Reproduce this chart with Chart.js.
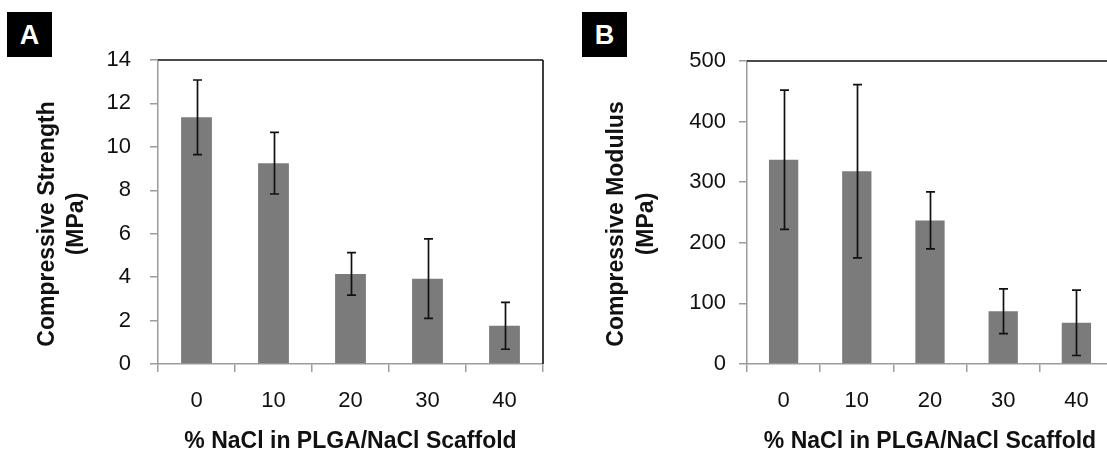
<!DOCTYPE html>
<html><head><meta charset="utf-8">
<script src="https://cdn.jsdelivr.net/npm/chart.js@4/dist/chart.umd.min.js"></script>
<style>
html,body{margin:0;padding:0;background:#fff;overflow:hidden;width:1107px;height:455px;position:relative;}
#wrapA{position:absolute;left:0;top:0;width:560px;height:455px;}
#wrapB{position:absolute;left:560px;top:0;width:560px;height:455px;}
.lab{position:absolute;top:12px;width:45px;height:45px;background:#000;color:#fff;font:bold 27px "Liberation Sans",Arial,sans-serif;text-align:center;line-height:46px;}
</style></head><body>
<div id="wrapA"><canvas id="cA"></canvas></div>
<div id="wrapB"><canvas id="cB"></canvas></div>
<div class="lab" style="left:7px">A</div>
<div class="lab" style="left:582px">B</div>
<script>
// ---- data ----
const categories = ['0', '10', '20', '30', '40'];
const strengthMeans = [11.36, 9.25, 4.15, 3.93, 1.76];
const strengthErrors = [1.72, 1.42, 0.98, 1.83, 1.08];
const modulusMeans = [337, 318, 237, 87, 68];
const modulusErrors = [115, 143, 47, 37, 54];
const strengthTicks = [0, 2, 4, 6, 8, 10, 12, 14];
const modulusTicks = [0, 100, 200, 300, 400, 500];
const xTitle = '% NaCl in PLGA/NaCl Scaffold';
const yTitleA = ['Compressive Strength', '(MPa)'];
const yTitleB = ['Compressive Modulus', '(MPa)'];

Chart.defaults.font.family = '"Liberation Sans", Arial, Helvetica, sans-serif';

const errorBars = {
  id: 'errorBars',
  afterDatasetsDraw(chart, args, opts) {
    const ctx = chart.ctx, meta = chart.getDatasetMeta(0), ys = chart.scales.y;
    const vals = chart.data.datasets[0].data;
    ctx.save();
    ctx.strokeStyle = '#111';
    ctx.lineWidth = 1.7;
    meta.data.forEach((bar, i) => {
      const v = vals[i], e = opts.errors[i];
      const x = Math.round(bar.x) + 0.5;
      const yt = ys.getPixelForValue(v + e), yb = ys.getPixelForValue(v - e);
      ctx.beginPath();
      ctx.moveTo(x, yt); ctx.lineTo(x, yb);
      ctx.moveTo(x - 4.5, yt); ctx.lineTo(x + 4.5, yt);
      ctx.moveTo(x - 4.5, yb); ctx.lineTo(x + 4.5, yb);
      ctx.stroke();
    });
    ctx.restore();
  }
};

const frame = {
  id: 'frame',
  afterDraw(chart) {
    const {ctx, chartArea: a} = chart;
    ctx.save();
    ctx.strokeStyle = '#111';
    ctx.lineWidth = 1.6;
    ctx.beginPath();
    ctx.moveTo(a.left, a.top); ctx.lineTo(a.right, a.top);
    ctx.moveTo(a.right, a.top); ctx.lineTo(a.right, a.bottom);
    ctx.stroke();
    ctx.restore();
  }
};

const yTitle = {
  id: 'yTitle',
  afterDraw(chart, args, opts) {
    const {ctx, chartArea: a} = chart;
    ctx.save();
    ctx.font = 'bold 23px "Liberation Sans", Arial, sans-serif';
    ctx.fillStyle = '#111';
    ctx.textAlign = 'center';
    ctx.textBaseline = 'alphabetic';
    const cy = 224;
    opts.lines.forEach((t, i) => {
      ctx.save();
      ctx.translate(a.left + opts.offsets[i], cy);
      ctx.rotate(-Math.PI / 2);
      ctx.fillText(t, 0, 0);
      ctx.restore();
    });
    ctx.restore();
  }
};

function makeChart(id, means, errors, tickVals, cfg) {
  const axisColor = '#9c9c9c';
  return new Chart(document.getElementById(id), {
    type: 'bar',
    data: {
      labels: categories,
      datasets: [{data: means, backgroundColor: '#7b7b7b', borderWidth: 0,
                  barPercentage: 0.4, categoryPercentage: 1}]
    },
    options: {
      responsive: true, maintainAspectRatio: false, animation: false,
      layout: {padding: {left: 0, top: cfg.top, right: cfg.right, bottom: 0}},
      plugins: {
        legend: {display: false}, tooltip: {enabled: false},
        errorBars: {errors: errors},
        yTitle: {lines: cfg.yTitle, offsets: cfg.yOffsets}
      },
      scales: {
        x: {
          grid: {display: true, drawOnChartArea: false, drawTicks: true, tickLength: 8,
                 color: axisColor, lineWidth: 1.5, offset: true},
          border: {color: axisColor, width: 1.5},
          ticks: {font: {size: 22}, color: '#111', padding: 16},
          title: {display: true, text: xTitle, font: {size: 23, weight: 'bold'},
                  color: '#111', padding: {top: 0, bottom: 0}},
          afterFit(s) { s.height = 91; }
        },
        y: {
          min: tickVals[0], max: tickVals[tickVals.length - 1],
          afterBuildTicks(s) { s.ticks = tickVals.map(v => ({value: v})); },
          grid: {drawOnChartArea: false, drawTicks: true, tickLength: 8,
                 color: axisColor, lineWidth: 1.5},
          border: {color: axisColor, width: 1.5},
          ticks: {font: {size: 22}, color: '#111', padding: cfg.ypad},
          afterFit(s) { s.width = cfg.yw; }
        }
      }
    },
    plugins: [errorBars, frame, yTitle]
  });
}

makeChart('cA', strengthMeans, strengthErrors, strengthTicks,
  {top: 60, right: 17, yw: 158, ypad: 19, yTitle: yTitleA, yOffsets: [-104, -75]});
makeChart('cB', modulusMeans, modulusErrors, modulusTicks,
  {top: 61, right: 7, yw: 187, ypad: 13, yTitle: yTitleB, yOffsets: [-124, -94]});
</script>
</body></html>
